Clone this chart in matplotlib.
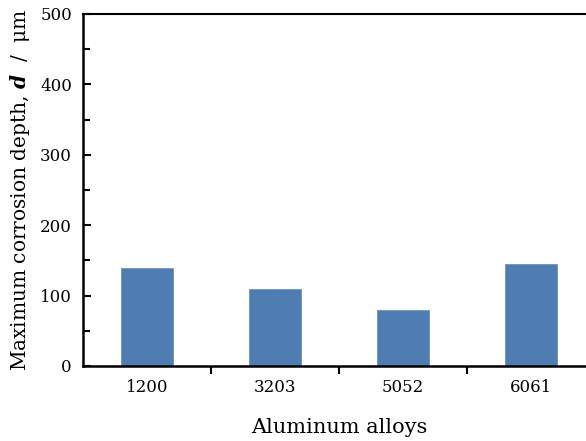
import numpy as np
import matplotlib
matplotlib.use("Agg")
import matplotlib.pyplot as plt
from matplotlib.ticker import MultipleLocator, FixedLocator, NullFormatter

alloys = ["1200", "3203", "5052", "6061"]
max_depth = [139, 109, 80, 145]

plt.rcParams["font.family"] = "DejaVu Serif"
plt.rcParams["mathtext.fontset"] = "dejavuserif"

fig = plt.figure(figsize=(5.86, 4.41), dpi=100)
ax = fig.add_axes([83 / 586, 1 - 366 / 441, 512 / 586, 352 / 441])

x = np.arange(len(alloys))
ax.bar(x, max_depth, width=0.4, color="#4f7db2", edgecolor="#6a93c2", linewidth=0.6, zorder=2)

ax.set_xlim(-0.5, len(alloys) - 0.5)
ax.set_ylim(0, 500)

ax.yaxis.set_major_locator(MultipleLocator(100))
ax.yaxis.set_minor_locator(MultipleLocator(50))
ax.tick_params(axis="y", which="major", direction="in", length=6, width=1.5, labelsize=12, pad=8)
ax.tick_params(axis="y", which="minor", direction="in", length=5, width=1.5)

# category labels centred, tick marks at the boundaries
ax.set_xticks(x)
ax.set_xticklabels(alloys)
ax.tick_params(axis="x", which="major", length=0, labelsize=12, pad=9)
ax.xaxis.set_minor_locator(FixedLocator(x[:-1] + 0.5))
ax.xaxis.set_minor_formatter(NullFormatter())
ax.tick_params(axis="x", which="minor", direction="out", length=6, width=1.5)

for side in ["left", "bottom"]:
    ax.spines[side].set_linewidth(1.8)
ax.spines["top"].set_linewidth(1.5)
ax.spines["right"].set_visible(False)

ax.set_xlabel("Aluminum alloys", fontsize=15, labelpad=16)
ax.set_ylabel(r"Maximum corrosion depth, $\mathbfit{d}$  /  μm", fontsize=14.5, labelpad=6)

fig.savefig("out.png", dpi=100)
